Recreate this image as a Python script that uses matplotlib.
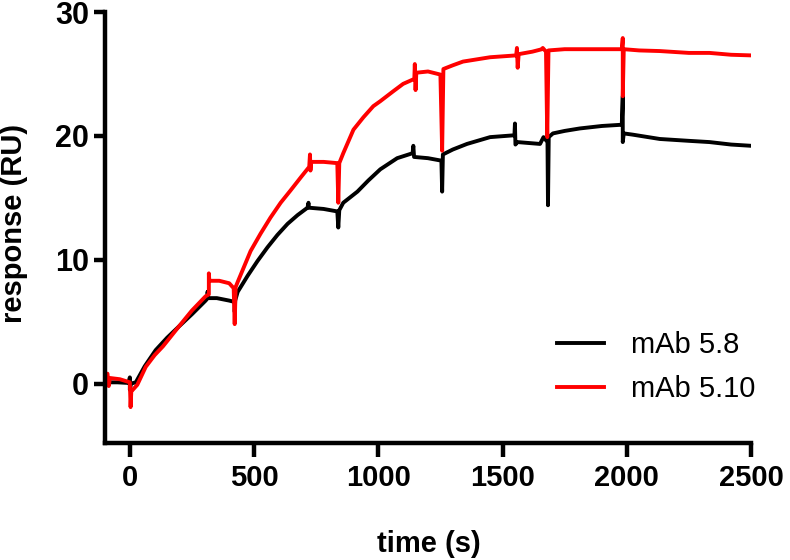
import matplotlib
matplotlib.use("Agg")
import matplotlib.pyplot as plt

# sensorgram values (time in s, response in RU)
# repeated times are the injection spikes
t_58 = [-100, -50, -5, 0, 0, 5, 24, 60, 104, 150, 197, 250, 305, 313, 313,
        313, 350, 400, 420, 422, 422, 424, 434, 474, 514, 554, 594, 635,
        675, 715, 719, 721, 780, 835, 839, 843, 859, 916, 960, 1008, 1076,
        1138, 1141, 1144, 1200, 1254, 1257, 1260, 1300, 1357, 1450, 1548,
        1550, 1552, 1560, 1651, 1665, 1681, 1683, 1686, 1703, 1750, 1811,
        1900, 1980, 1984, 1984, 1988, 2024, 2133, 2250, 2333, 2420, 2500]
ru_58 = [0.1, 0.1, 0.05, 0.5, -0.5, 0.0, 0.1, 1.4, 2.7, 3.7, 4.6, 5.6, 6.7,
         6.9, 7.4, 6.9, 6.9, 6.7, 6.6, 7.0, 5.8, 6.7, 7.4, 8.7, 9.9, 11.0,
         12.0, 12.9, 13.6, 14.2, 14.6, 14.2, 14.1, 13.9, 12.6, 14.0, 14.6,
         15.5, 16.4, 17.3, 18.2, 18.6, 19.2, 18.3, 18.2, 18.0, 15.5, 18.5,
         18.9, 19.35, 19.9, 20.05, 21.0, 19.3, 19.5, 19.35, 19.9, 19.5, 14.4,
         19.9, 20.2, 20.4, 20.6, 20.8, 20.9, 23.2, 19.5, 20.2, 20.1, 19.75,
         19.6, 19.5, 19.3, 19.2]

t_510 = [-100, -90, -85, -80, -40, 0, 3, 6, 12, 30, 64, 100, 133, 197, 250,
         305, 318, 318, 320, 360, 400, 418, 422, 426, 434, 486, 526, 566,
         607, 647, 690, 722, 725, 727, 730, 780, 835, 839, 843, 859, 900,
         940, 980, 1008, 1060, 1100, 1145, 1147, 1150, 1153, 1200, 1250,
         1257, 1262, 1300, 1341, 1450, 1555, 1558, 1561, 1565, 1620, 1659,
         1662, 1675, 1680, 1685, 1750, 1850, 1980, 1984, 1984, 1988, 2050,
         2133, 2250, 2333, 2420, 2500]
ru_510 = [0.5, 0.8, -0.2, 0.45, 0.35, 0.1, -1.9, -0.6, -0.5, -0.1, 1.35, 2.3,
          3.0, 4.6, 5.9, 7.05, 7.2, 8.9, 8.3, 8.3, 8.1, 7.7, 4.8, 7.8, 8.2,
          10.7, 12.1, 13.4, 14.6, 15.6, 16.7, 17.5, 18.5, 17.2, 17.9, 17.9,
          17.8, 14.6, 17.8, 18.6, 20.5, 21.5, 22.4, 22.8, 23.6, 24.2, 24.6,
          25.8, 23.7, 25.1, 25.2, 24.95, 18.8, 25.4, 25.7, 26.0, 26.35, 26.5,
          27.1, 25.5, 26.6, 26.8, 27.0, 27.1, 26.8, 19.9, 26.9, 27.0, 27.0,
          27.0, 27.9, 23.2, 27.0, 26.9, 26.85, 26.7, 26.7, 26.55, 26.5]

labels = ["mAb 5.8", "mAb 5.10"]
x_ticks = [0, 500, 1000, 1500, 2000, 2500]
y_ticks = [0, 10, 20, 30]

plt.rcParams["font.family"] = ["Liberation Sans", "DejaVu Sans"]

fig = plt.figure(figsize=(7.9, 5.6), dpi=100)
ax = fig.add_axes([0.1329, 0.2089, 0.8177, 0.7696])

ax.plot(t_58, ru_58, color="black", lw=2.8, label=labels[0])
ax.plot(t_510, ru_510, color="#ff0000", lw=2.8, label=labels[1])

ax.set_xlim(-100, 2500)
ax.set_ylim(-4.8, 30)
ax.set_xticks(x_ticks)
ax.set_yticks(y_ticks)

for s in ["top", "right"]:
    ax.spines[s].set_visible(False)
for s in ["left", "bottom"]:
    ax.spines[s].set_linewidth(3.2)

ax.tick_params(axis="x", direction="out", length=10, width=3.2, pad=5,
               labelsize=21)
ax.tick_params(axis="y", direction="out", length=8, width=3.2, pad=3.5,
               labelsize=22)
for lab in ax.get_xticklabels() + ax.get_yticklabels():
    lab.set_fontweight("bold")

ax.set_xlabel("time (s)", fontsize=21, fontweight="bold")
ax.set_ylabel("response (RU)", fontsize=21, fontweight="bold")
ax.xaxis.set_label_coords(0.501, -0.202)
ax.yaxis.set_label_coords(-0.119, 0.51)

ax.legend(loc="center left", bbox_to_anchor=(0.6997, 0.176), frameon=False,
          fontsize=21, handlelength=1.6, handletextpad=0.95,
          labelspacing=0.55, borderpad=0, borderaxespad=0)

fig.savefig("out.png", dpi=100)
